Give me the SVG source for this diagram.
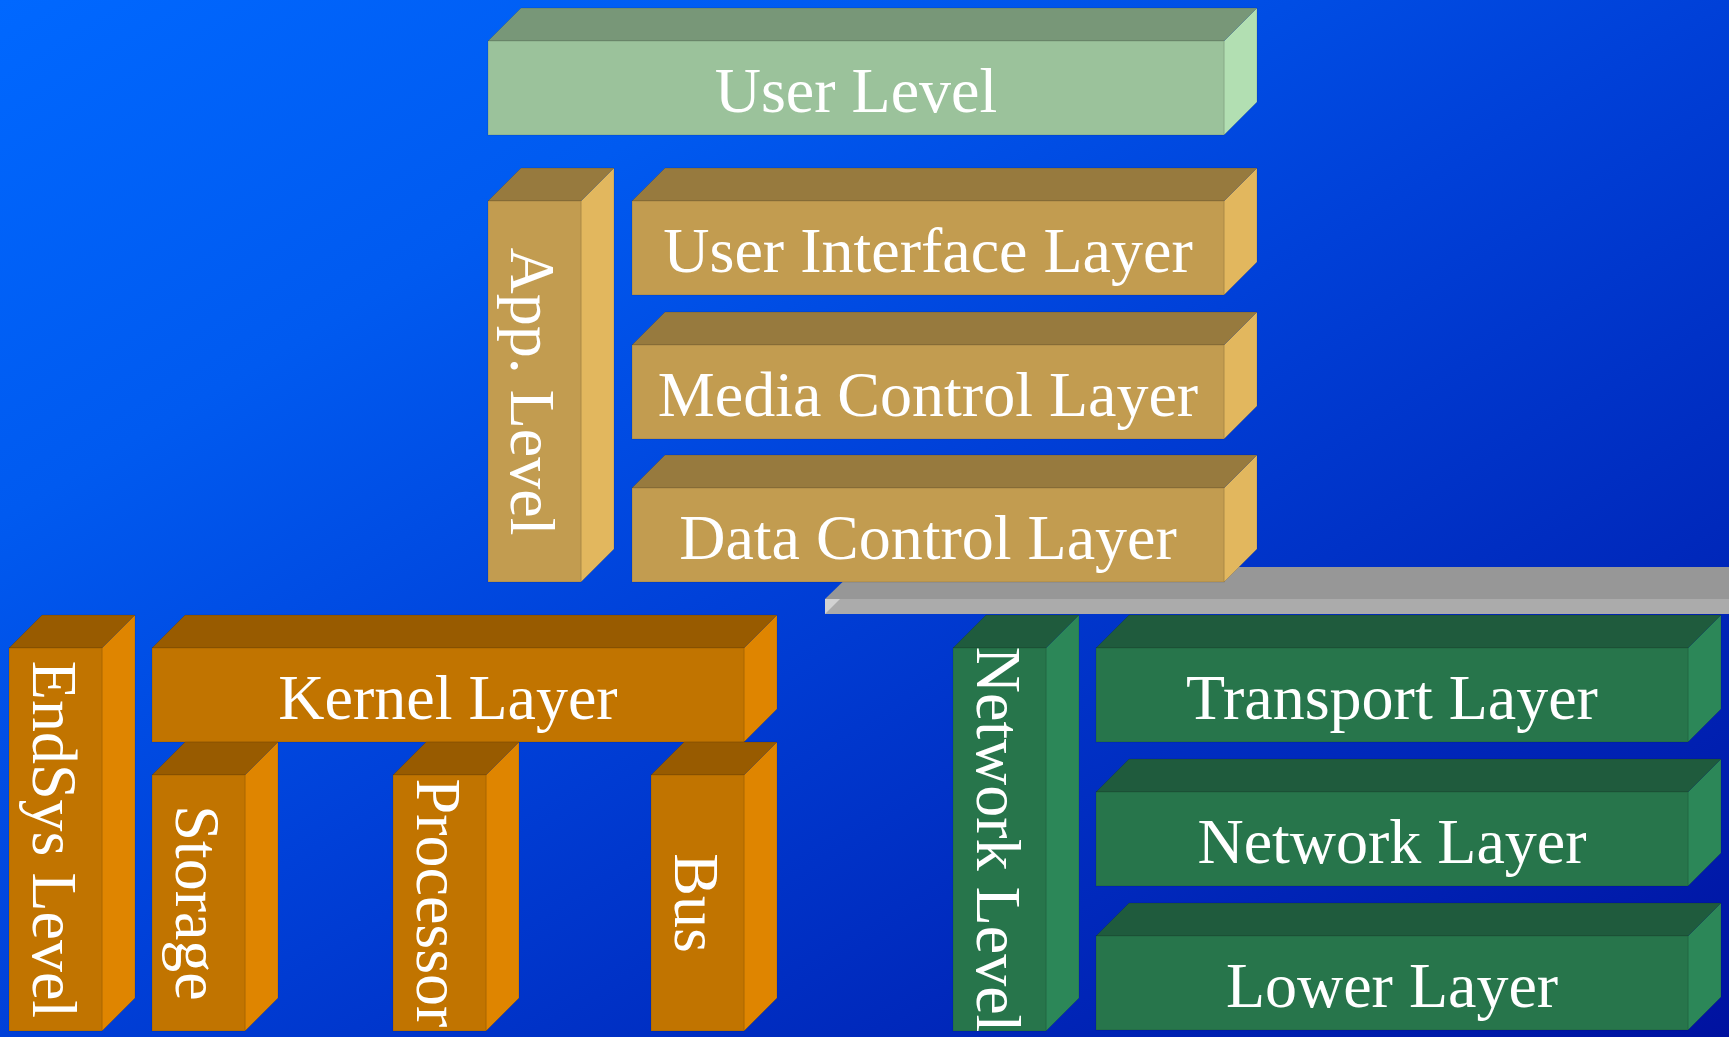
<svg xmlns="http://www.w3.org/2000/svg" width="1729" height="1037" viewBox="0 0 1729 1037">
<defs>
<linearGradient id="bg" x1="0" y1="0" x2="1" y2="1">
<stop offset="0" stop-color="#0068FF"/>
<stop offset="0.25" stop-color="#005AF0"/>
<stop offset="0.5" stop-color="#0040D8"/>
<stop offset="1" stop-color="#0012A0"/>
</linearGradient>
<style>
.lbl{font-family:"Liberation Serif","Times New Roman",serif;font-size:64px;fill:#FFFFFF;text-anchor:middle}
.f{stroke:rgba(0,0,0,0.12);stroke-width:1}
.gT{fill:#789778}.gF{fill:#9BC29B}.gS{fill:#B2DFB2}
.tT{fill:#977A3E}.tF{fill:#C29C50}.tS{fill:#E2B75E}
.oT{fill:#985B00}.oF{fill:#C17400}.oS{fill:#DF8500}
.nT{fill:#1F5B3D}.nF{fill:#27754B}.nS{fill:#2C8758}
.yT{fill:#979797}.yF{fill:#ABABAB}.yE{fill:#D2D2D2}
</style>
</defs>
<rect x="0" y="0" width="1729" height="1037" fill="url(#bg)"/>

<g id="network-bar">
<polygon class="yT" points="825,599 858,567 1729,567 1729,599"/>
<rect class="yF" x="825" y="599" width="904" height="15"/>
<polygon class="yE" points="825,599 840,599 825,614"/>
</g>

<g id="user-level">
<polygon class="gT f" points="488,41 521,8 1257,8 1224,41"/>
<polygon class="gS f" points="1224,41 1257,8 1257,102 1224,135"/>
<rect class="gF f" x="488" y="41" width="736" height="94"/>
<text class="lbl" x="856" y="112">User Level</text>
</g>

<g id="app-level">
<polygon class="tT f" points="488,201 521,168 614,168 581,201"/>
<polygon class="tS f" points="581,201 614,168 614,549 581,582"/>
<rect class="tF f" x="488" y="201" width="93" height="381"/>
<text class="lbl" transform="translate(511,391.5) rotate(90)" x="0" y="0">App. Level</text>
</g>

<g id="user-interface-layer">
<polygon class="tT f" points="632,201 665,168 1257,168 1224,201"/>
<polygon class="tS f" points="1224,201 1257,168 1257,262 1224,295"/>
<rect class="tF f" x="632" y="201" width="592" height="94"/>
<text class="lbl" x="928" y="272">User Interface Layer</text>
</g>

<g id="media-control-layer">
<polygon class="tT f" points="632,345 665,312 1257,312 1224,345"/>
<polygon class="tS f" points="1224,345 1257,312 1257,406 1224,439"/>
<rect class="tF f" x="632" y="345" width="592" height="94"/>
<text class="lbl" x="928" y="416">Media Control Layer</text>
</g>

<g id="data-control-layer">
<polygon class="tT f" points="632,488 665,455 1257,455 1224,488"/>
<polygon class="tS f" points="1224,488 1257,455 1257,549 1224,582"/>
<rect class="tF f" x="632" y="488" width="592" height="94"/>
<text class="lbl" x="928" y="559">Data Control Layer</text>
</g>

<g id="endsys-level">
<polygon class="oT f" points="9,648 42,615 135,615 102,648"/>
<polygon class="oS f" points="102,648 135,615 135,998 102,1031"/>
<rect class="oF f" x="9" y="648" width="93" height="383"/>
<text class="lbl" transform="translate(32.5,839.5) rotate(90)" x="0" y="0">EndSys Level</text>
</g>

<g id="kernel-layer">
<polygon class="oT f" points="152,648 185,615 777,615 744,648"/>
<polygon class="oS f" points="744,648 777,615 777,709 744,742"/>
<rect class="oF f" x="152" y="648" width="592" height="94"/>
<text class="lbl" x="448" y="719">Kernel Layer</text>
</g>

<g id="storage">
<polygon class="oT f" points="152,775 185,742 278,742 245,775"/>
<polygon class="oS f" points="245,775 278,742 278,998 245,1031"/>
<rect class="oF f" x="152" y="775" width="93" height="256"/>
<text class="lbl" transform="translate(175.5,903) rotate(90)" x="0" y="0">Storage</text>
</g>

<g id="processor">
<polygon class="oT f" points="393,775 426,742 519,742 486,775"/>
<polygon class="oS f" points="486,775 519,742 519,998 486,1031"/>
<rect class="oF f" x="393" y="775" width="93" height="256"/>
<text class="lbl" transform="translate(416.5,903) rotate(90)" x="0" y="0">Processor</text>
</g>

<g id="bus">
<polygon class="oT f" points="651,775 684,742 777,742 744,775"/>
<polygon class="oS f" points="744,775 777,742 777,998 744,1031"/>
<rect class="oF f" x="651" y="775" width="93" height="256"/>
<text class="lbl" transform="translate(674.5,903) rotate(90)" x="0" y="0">Bus</text>
</g>

<g id="network-level">
<polygon class="nT f" points="953,648 986,615 1079,615 1046,648"/>
<polygon class="nS f" points="1046,648 1079,615 1079,998 1046,1031"/>
<rect class="nF f" x="953" y="648" width="93" height="383"/>
<text class="lbl" transform="translate(976.5,839.5) rotate(90)" x="0" y="0">Network Level</text>
</g>

<g id="transport-layer">
<polygon class="nT f" points="1096,648 1129,615 1721,615 1688,648"/>
<polygon class="nS f" points="1688,648 1721,615 1721,709 1688,742"/>
<rect class="nF f" x="1096" y="648" width="592" height="94"/>
<text class="lbl" x="1392" y="719">Transport Layer</text>
</g>

<g id="network-layer">
<polygon class="nT f" points="1096,792 1129,759 1721,759 1688,792"/>
<polygon class="nS f" points="1688,792 1721,759 1721,853 1688,886"/>
<rect class="nF f" x="1096" y="792" width="592" height="94"/>
<text class="lbl" x="1392" y="863">Network Layer</text>
</g>

<g id="lower-layer">
<polygon class="nT f" points="1096,936 1129,903 1721,903 1688,936"/>
<polygon class="nS f" points="1688,936 1721,903 1721,997 1688,1030"/>
<rect class="nF f" x="1096" y="936" width="592" height="94"/>
<text class="lbl" x="1392" y="1007">Lower Layer</text>
</g>

<g id="connectors"/>
</svg>
